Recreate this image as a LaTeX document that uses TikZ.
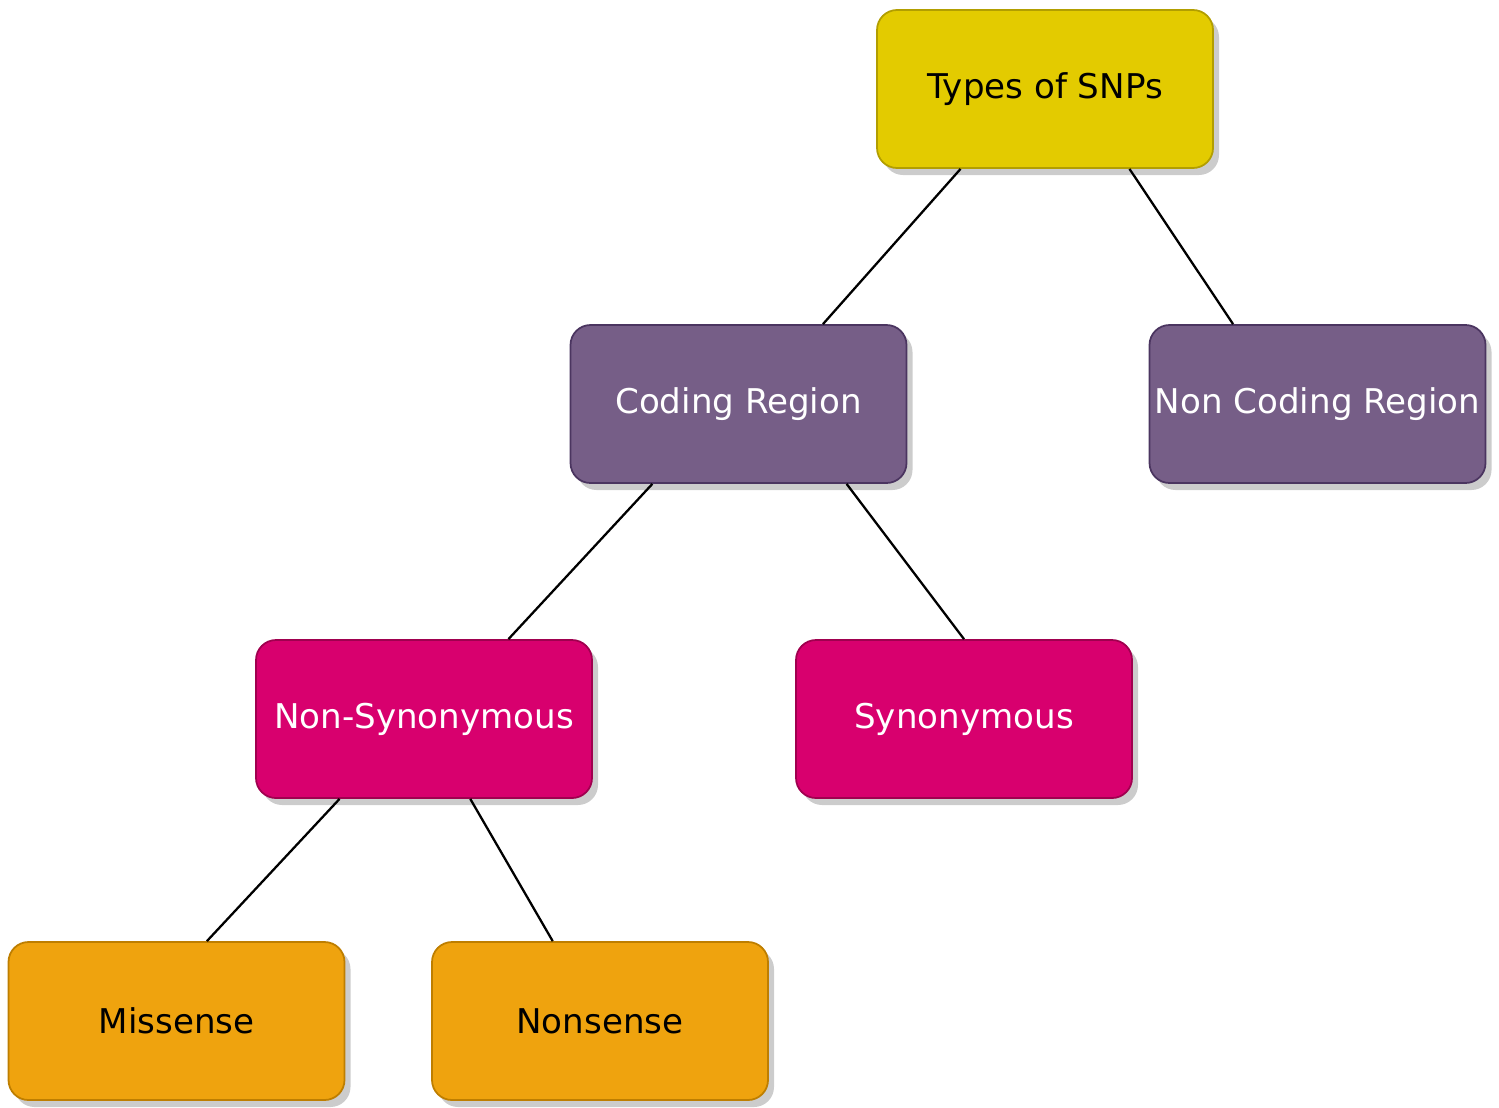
\documentclass[tikz,border=0pt]{standalone}
\usepackage{fontspec}
\setmainfont{DejaVu Sans}
\usepackage{tikz}
\usetikzlibrary{calc,shadows}

\definecolor{snpyellow}{HTML}{E3CB00}
\definecolor{snpyellowdark}{HTML}{B29E00}
\definecolor{snppurple}{HTML}{765E87}
\definecolor{snppurpledark}{HTML}{4B3560}
\definecolor{snpmagenta}{HTML}{D8006E}
\definecolor{snpmagentadark}{HTML}{A0004F}
\definecolor{snporange}{HTML}{EFA30E}
\definecolor{snporangedark}{HTML}{BE7E00}

\tikzset{
	snpbox/.style = {rectangle, rounded corners = 0.2cm, minimum width = 3.36cm, minimum height = 1.58cm, inner sep = 0pt, line width = 0.5pt, font = \fontsize{9.7}{11}\selectfont, drop shadow = {shadow xshift = 0.06cm, shadow yshift = -0.07cm, opacity = 0.4, fill = gray}},
	link/.style = {line width = 0.65pt, black}
}

\begin{document}
\begin{tikzpicture}
	\useasboundingbox (0,0) rectangle (14.99,11.07);
	\node[snpbox, fill = snpyellow, draw = snpyellowdark, text = black] (types) at (10.45,10.18) {Types of SNPs};
	\node[snpbox, fill = snppurple, draw = snppurpledark, text = white] (coding) at (7.385,7.03) {Coding Region};
	\node[snpbox, fill = snppurple, draw = snppurpledark, text = white] (noncoding) at (13.175,7.03) {Non Coding Region};
	\node[snpbox, fill = snpmagenta, draw = snpmagentadark, text = white] (nonsyn) at (4.24,3.88) {Non-Synonymous};
	\node[snpbox, fill = snpmagenta, draw = snpmagentadark, text = white] (syn) at (9.64,3.88) {Synonymous};
	\node[snpbox, fill = snporange, draw = snporangedark, text = black] (missense) at (1.765,0.86) {Missense};
	\node[snpbox, fill = snporange, draw = snporangedark, text = black] (nonsense) at (6.00,0.86) {Nonsense};
	% connectors
	\draw[link] ($(types.south west)!0.25!(types.south east)$) -- ($(coding.north west)!0.75!(coding.north east)$);
	\draw[link] ($(types.south west)!0.75!(types.south east)$) -- ($(noncoding.north west)!0.25!(noncoding.north east)$);
	\draw[link] ($(coding.south west)!0.245!(coding.south east)$) -- ($(nonsyn.north west)!0.75!(nonsyn.north east)$);
	\draw[link] ($(coding.south west)!0.82!(coding.south east)$) -- ($(syn.north west)!0.5!(syn.north east)$);
	\draw[link] ($(nonsyn.south west)!0.25!(nonsyn.south east)$) -- ($(missense.north west)!0.59!(missense.north east)$);
	\draw[link] ($(nonsyn.south west)!0.637!(nonsyn.south east)$) -- ($(nonsense.north west)!0.36!(nonsense.north east)$);
\end{tikzpicture}
\end{document}
